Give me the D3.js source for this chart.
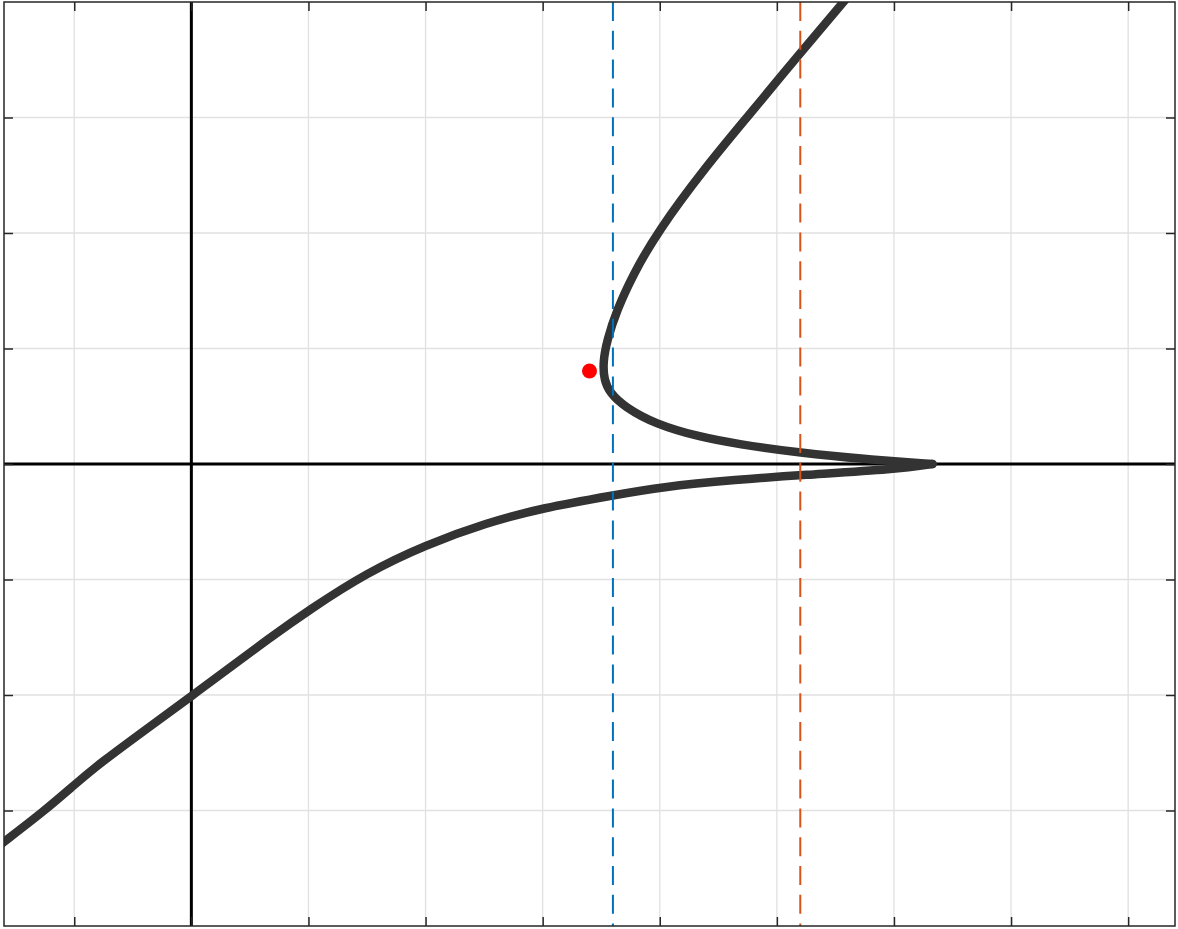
<!DOCTYPE html>
<html>
<head>
<meta charset="utf-8">
<script src="https://cdn.jsdelivr.net/npm/d3@7"></script>
<style>
  html, body { margin: 0; padding: 0; background: #ffffff; }
  svg { display: block; font-family: "Liberation Sans", Arial, sans-serif; }
</style>
</head>
<body>
<svg id="chart" width="1178" height="929"></svg>
<script>
// ---- data ----
const xTicks = [-1, 0, 1, 2, 3, 4, 5, 6, 7, 8];
const yTicks = [-3, -2, -1, 0, 1, 2, 3];
const xDomain = [-1.6, 8.4];
const yDomain = [-4, 4];

// upper branch: from the top edge, round the vertex, to the cusp
const upperX = [5.61, 5.20, 4.745, 4.39, 3.98, 3.77, 3.634, 3.55, 3.515, 3.524, 3.575, 3.70, 3.96, 4.34, 4.66, 5.21, 5.73, 6.33];
const upperY = [4.05, 3.56, 3.00, 2.57, 2.01, 1.636, 1.333, 1.074, 0.883, 0.727, 0.615, 0.494, 0.346, 0.234, 0.173, 0.095, 0.043, 0.0];
// lower branch: from the cusp to the bottom-left edge
const lowerX = [6.33, 6.03, 5.21, 4.66, 4.00, 3.61, 3.00, 2.52, 2.00, 1.50, 1.01, 0.65, 0.36, 0.00, -0.35, -0.78, -0.99, -1.25, -1.65];
const lowerY = [0.0, -0.045, -0.095, -0.135, -0.20, -0.27, -0.38, -0.51, -0.70, -0.94, -1.26, -1.52, -1.74, -2.01, -2.27, -2.59, -2.77, -3.00, -3.31];

const vLineX = [3.6, 5.2];
const vLineColor = ["#0072BD", "#D95319"];
const pointX = [3.40];
const pointY = [0.805];

// ---- layout ----
const svg = d3.select("#chart");
const pL = 4, pR = 1175, pT = 2, pB = 926;
const x = d3.scaleLinear().domain(xDomain).range([pL, pR]);
const y = d3.scaleLinear().domain(yDomain).range([pB, pT]);

svg.append("rect").attr("x", 0).attr("y", 0).attr("width", 1178).attr("height", 929).attr("fill", "#fff");

svg.append("defs").append("clipPath").attr("id", "clip")
  .append("rect").attr("x", pL).attr("y", pT).attr("width", pR - pL).attr("height", pB - pT);

const plot = svg.append("g").attr("clip-path", "url(#clip)");

// grid
plot.append("g").selectAll("line").data(xTicks).join("line")
  .attr("x1", d => x(d)).attr("x2", d => x(d)).attr("y1", pT).attr("y2", pB)
  .attr("stroke", "#e1e1e1").attr("stroke-width", 1.3);
plot.append("g").selectAll("line").data(yTicks).join("line")
  .attr("y1", d => y(d)).attr("y2", d => y(d)).attr("x1", pL).attr("x2", pR)
  .attr("stroke", "#e1e1e1").attr("stroke-width", 1.3);

// zero axes
plot.append("line").attr("x1", x(0)).attr("x2", x(0)).attr("y1", pT).attr("y2", pB)
  .attr("stroke", "#000").attr("stroke-width", 3);
plot.append("line").attr("y1", y(0)).attr("y2", y(0)).attr("x1", pL).attr("x2", pR)
  .attr("stroke", "#000").attr("stroke-width", 3);

// curve (two branches meeting at the cusp)
const branches = [
  upperX.map((d, i) => [d, upperY[i]]),
  lowerX.map((d, i) => [d, lowerY[i]])
];
const line = d3.line().x(d => x(d[0])).y(d => y(d[1])).curve(d3.curveBasis);
plot.append("g").selectAll("path").data(branches).join("path")
  .attr("d", line)
  .attr("fill", "none").attr("stroke", "#333333").attr("stroke-width", 8.5)
  .attr("stroke-linejoin", "round").attr("stroke-linecap", "round");

// dashed vertical lines
plot.append("g").selectAll("line").data(vLineX).join("line")
  .attr("x1", d => x(d)).attr("x2", d => x(d)).attr("y1", pT).attr("y2", pB)
  .attr("stroke", (d, i) => vLineColor[i]).attr("stroke-width", 2)
  .attr("stroke-dasharray", "19,9.8");

// red point
plot.append("g").selectAll("circle").data(pointX).join("circle")
  .attr("cx", d => x(d)).attr("cy", (d, i) => y(pointY[i])).attr("r", 7.5)
  .attr("fill", "#ff0000");

// axes (ticks inside, no labels) on all four sides
const tickLen = 9;
const axisColor = "#262626";
const axG = svg.append("g");
axG.append("g").attr("transform", `translate(0,${pB})`)
  .call(d3.axisTop(x).tickValues(xTicks).tickSize(tickLen).tickFormat(""))
  .call(g => g.select(".domain").remove());
axG.append("g").attr("transform", `translate(0,${pT})`)
  .call(d3.axisBottom(x).tickValues(xTicks).tickSize(tickLen).tickFormat(""))
  .call(g => g.select(".domain").remove());
axG.append("g").attr("transform", `translate(${pL},0)`)
  .call(d3.axisRight(y).tickValues(yTicks).tickSize(tickLen).tickFormat(""))
  .call(g => g.select(".domain").remove());
axG.append("g").attr("transform", `translate(${pR},0)`)
  .call(d3.axisLeft(y).tickValues(yTicks).tickSize(tickLen).tickFormat(""))
  .call(g => g.select(".domain").remove());
axG.selectAll(".tick line").attr("stroke", axisColor).attr("stroke-width", 1.5);

// box
svg.append("rect").attr("x", pL).attr("y", pT).attr("width", pR - pL).attr("height", pB - pT)
  .attr("fill", "none").attr("stroke", axisColor).attr("stroke-width", 1.5);
</script>
</body>
</html>
